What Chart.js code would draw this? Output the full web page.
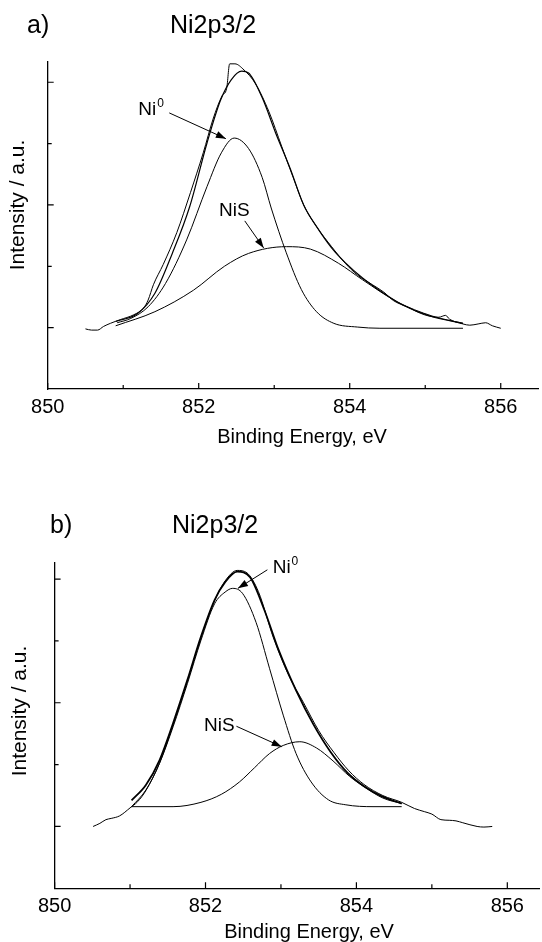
<!DOCTYPE html>
<html>
<head>
<meta charset="utf-8">
<title>Ni2p3/2 XPS fits</title>
<script src="https://cdn.jsdelivr.net/npm/chart.js@4.4.1/dist/chart.umd.min.js"></script>
<style>
  body { margin: 0; background: #fff; }
  #wrap { position: relative; width: 542px; height: 942px; }
  canvas { position: absolute; left: 0; }
  #chart-a { top: 0; }
  #chart-b { top: 470px; }
</style>
</head>
<body>
<div id="wrap">
  <canvas id="chart-a" width="542" height="470"></canvas>
  <canvas id="chart-b" width="542" height="472"></canvas>
</div>
<script>
// Panel a) - measured spectrum
const expAx = [850.50, 850.58, 850.66, 850.74, 850.83, 850.96, 851.14, 851.27, 851.33, 851.40, 851.53, 851.71, 851.89, 852.06, 852.19, 852.31, 852.37, 852.41, 852.48, 852.60, 852.75, 852.93, 853.10, 853.25, 853.39, 853.57, 853.76, 853.94, 854.10, 854.30, 854.45, 854.58, 854.76, 854.99, 855.18, 855.27, 855.32, 855.50, 855.59, 855.70, 855.80, 855.89, 856.00];
const expAy = [0.98, 0.96, 0.96, 1.02, 1.07, 1.13, 1.21, 1.32, 1.45, 1.70, 2.03, 2.55, 3.20, 3.85, 4.40, 4.78, 4.90, 5.30, 5.30, 5.20, 4.98, 4.52, 3.95, 3.45, 3.00, 2.63, 2.32, 2.05, 1.86, 1.70, 1.58, 1.44, 1.34, 1.21, 1.17, 1.20, 1.14, 1.06, 1.04, 1.06, 1.08, 1.03, 0.99];
// Panel a) - fit envelope
const envAx = [850.90, 851.19, 851.42, 851.65, 851.88, 852.11, 852.29, 852.43, 852.57, 852.66, 852.84, 853.02, 853.21, 853.39, 853.57, 853.76, 853.94, 854.17, 854.45, 854.70, 855.06, 855.50];
const envAy = [1.10, 1.23, 1.56, 2.21, 2.97, 4.01, 4.71, 5.04, 5.18, 5.15, 4.75, 4.17, 3.60, 3.00, 2.63, 2.30, 2.06, 1.81, 1.56, 1.37, 1.19, 1.07];
// Panel a) - Ni0 component
const ni0Ax = [850.92, 851.10, 851.33, 851.56, 851.84, 852.11, 852.30, 852.47, 852.66, 852.84, 852.96, 853.16, 853.36, 853.56, 853.79, 854.10, 854.40, 855.50];
const ni0Ay = [1.08, 1.15, 1.34, 1.72, 2.43, 3.30, 3.85, 4.09, 3.92, 3.45, 2.95, 2.22, 1.62, 1.26, 1.07, 1.01, 0.99, 0.99];
// Panel a) - NiS component
const nisAx = [850.90, 851.42, 851.93, 852.34, 852.66, 853.16, 853.48, 853.85, 854.17, 854.63, 855.09, 855.50];
const nisAy = [1.03, 1.26, 1.61, 2.00, 2.21, 2.32, 2.28, 2.05, 1.78, 1.42, 1.19, 1.07];

// Panel b) - measured spectrum
const expBx = [850.51, 850.60, 850.68, 850.75, 850.86, 851.00, 851.10, 851.21, 851.39, 851.57, 851.76, 851.94, 852.12, 852.26, 852.42, 852.55, 852.70, 852.90, 853.10, 853.30, 853.50, 853.70, 853.90, 854.10, 854.35, 854.60, 854.77, 854.90, 855.00, 855.12, 855.23, 855.32, 855.41, 855.60, 855.69, 855.80];
const expBy = [1.00, 1.05, 1.11, 1.13, 1.17, 1.30, 1.40, 1.58, 2.02, 2.64, 3.35, 4.05, 4.65, 4.97, 5.14, 5.10, 4.80, 4.05, 3.45, 3.00, 2.55, 2.20, 1.90, 1.68, 1.50, 1.39, 1.29, 1.24, 1.20, 1.11, 1.10, 1.09, 1.06, 1.00, 0.99, 1.00];
// Panel b) - fit envelope
const envBx = [851.02, 851.21, 851.39, 851.57, 851.76, 851.94, 852.12, 852.26, 852.42, 852.59, 852.78, 852.97, 853.20, 853.43, 853.66, 853.88, 854.10, 854.33, 854.60];
const envBy = [1.42, 1.67, 2.07, 2.67, 3.37, 4.07, 4.66, 4.95, 5.12, 5.03, 4.50, 3.85, 3.20, 2.65, 2.20, 1.87, 1.65, 1.49, 1.37];
// Panel b) - Ni0 component
const ni0Bx = [851.02, 851.21, 851.39, 851.57, 851.76, 851.94, 852.12, 852.26, 852.36, 852.49, 852.67, 852.85, 853.03, 853.20, 853.40, 853.63, 853.86, 854.22, 854.60];
const ni0By = [1.32, 1.59, 2.02, 2.61, 3.31, 4.01, 4.60, 4.79, 4.85, 4.77, 4.30, 3.55, 2.80, 2.18, 1.72, 1.43, 1.35, 1.32, 1.32];
// Panel b) - NiS component
const nisBx = [851.02, 851.57, 851.94, 852.21, 852.45, 852.65, 852.85, 853.03, 853.25, 853.47, 853.69, 853.91, 854.14, 854.35, 854.60];
const nisBy = [1.32, 1.32, 1.39, 1.52, 1.72, 1.95, 2.18, 2.31, 2.37, 2.27, 2.06, 1.81, 1.61, 1.46, 1.37];

// Axis ticks
const xTickLabels = [850, 852, 854, 856];
const xMinorTicks = [851, 853, 855];
const yMajorTicks = [1, 3, 5];
const yMinorTicks = [2, 4];

const FONT = 'Arial, "Liberation Sans", Helvetica, sans-serif';

function toPoints(xs, ys) {
  return xs.map((x, i) => ({ x: x, y: ys[i] }));
}

function curve(xs, ys, width, smooth) {
  return {
    data: toPoints(xs, ys),
    borderColor: '#000',
    borderWidth: width,
    pointRadius: 0,
    fill: false,
    cubicInterpolationMode: smooth ? 'monotone' : 'default',
    tension: 0
  };
}

// Draws inward ticks, the panel titles, axis titles and the arrow labels
function decorPlugin(p) {
  return {
    id: 'decor',
    afterDraw(chart) {
      const { ctx, chartArea: area, scales: { x, y } } = chart;
      ctx.save();
      ctx.strokeStyle = '#000';
      ctx.fillStyle = '#000';

      // inward tick marks
      ctx.lineWidth = 1.2;
      ctx.beginPath();
      const xTick = (v, len) => {
        const px = x.getPixelForValue(v);
        ctx.moveTo(px, area.bottom);
        ctx.lineTo(px, area.bottom - len);
      };
      const yTick = (v, len) => {
        const py = y.getPixelForValue(v);
        ctx.moveTo(area.left, py);
        ctx.lineTo(area.left + len, py);
      };
      xTickLabels.forEach(v => xTick(v, 6));
      xMinorTicks.forEach(v => xTick(v, 4));
      yMajorTicks.forEach(v => yTick(v, 6));
      yMinorTicks.forEach(v => yTick(v, 4));
      ctx.stroke();

      // panel letter and title
      ctx.font = '25px ' + FONT;
      ctx.textAlign = 'left';
      ctx.textBaseline = 'alphabetic';
      ctx.fillText(p.letter, p.letterX, p.titleY);
      ctx.fillText('Ni2p3/2', p.titleX, p.titleY);

      // x axis title
      ctx.font = '20px ' + FONT;
      ctx.textAlign = 'center';
      ctx.fillText('Binding Energy, eV', p.xTitleX, p.xTitleY);

      // y axis title
      ctx.save();
      ctx.translate(p.yTitleX, p.yTitleY);
      ctx.rotate(-Math.PI / 2);
      ctx.font = '21px ' + FONT;
      ctx.textAlign = 'center';
      ctx.textBaseline = 'middle';
      ctx.fillText('Intensity / a.u.', 0, 0);
      ctx.restore();

      // component labels with arrows
      p.notes.forEach(n => {
        const tx = x.getPixelForValue(n.x);
        const ty = y.getPixelForValue(n.y);
        ctx.font = '19px ' + FONT;
        ctx.textAlign = 'left';
        ctx.textBaseline = 'alphabetic';
        ctx.fillText(n.text, tx, ty);
        if (n.sup) {
          const w = ctx.measureText(n.text).width;
          ctx.font = '12px ' + FONT;
          ctx.fillText(n.sup, tx + w + 1, ty - 8);
        }
        const x1 = x.getPixelForValue(n.from[0]), y1 = y.getPixelForValue(n.from[1]);
        const x2 = x.getPixelForValue(n.to[0]), y2 = y.getPixelForValue(n.to[1]);
        ctx.lineWidth = 1;
        ctx.beginPath();
        ctx.moveTo(x1, y1);
        ctx.lineTo(x2, y2);
        ctx.stroke();
        const a = Math.atan2(y2 - y1, x2 - x1);
        const L = 10, W = 3.5;
        ctx.beginPath();
        ctx.moveTo(x2, y2);
        ctx.lineTo(x2 - L * Math.cos(a) + W * Math.sin(a), y2 - L * Math.sin(a) - W * Math.cos(a));
        ctx.lineTo(x2 - L * Math.cos(a) - W * Math.sin(a), y2 - L * Math.sin(a) + W * Math.cos(a));
        ctx.closePath();
        ctx.fill();
      });
      ctx.restore();
    }
  };
}

function makeChart(id, cfg) {
  const canvas = document.getElementById(id);
  return new Chart(canvas, {
    type: 'line',
    data: { datasets: cfg.datasets },
    options: {
      responsive: false,
      animation: false,
      devicePixelRatio: 1,
      layout: { padding: cfg.padding },
      plugins: { legend: { display: false }, tooltip: { enabled: false } },
      scales: {
        x: {
          type: 'linear',
          min: 850,
          max: cfg.xMax,
          grid: { display: false, drawTicks: false },
          border: { display: true, color: '#000', width: 1.3 },
          afterBuildTicks: scale => { scale.ticks = xTickLabels.map(v => ({ value: v })); },
          ticks: {
            color: '#000',
            padding: 6,
            maxRotation: 0,
            font: { family: FONT, size: 20 },
            callback: v => String(v)
          },
          afterFit: scale => { scale.height = cfg.xHeight; }
        },
        y: {
          min: 0,
          max: cfg.yMax,
          grid: { display: false, drawTicks: false },
          border: { display: true, color: '#000', width: 1.3 },
          ticks: { display: false },
          afterFit: scale => { scale.width = 0; }
        }
      }
    },
    plugins: [decorPlugin(cfg.decor)]
  });
}

makeChart('chart-a', {
  datasets: [
    curve(expAx, expAy, 1, true),
    curve(envAx, envAy, 1.2, true),
    curve(ni0Ax, ni0Ay, 1, true),
    curve(nisAx, nisAy, 1, true)
  ],
  padding: { left: 47.7, right: 3.5, top: 62, bottom: 0 },
  xMax: 856.5,
  yMax: 5.33,
  xHeight: 81,
  decor: {
    letter: 'a)', letterX: 27, titleX: 170, titleY: 33,
    xTitleX: 302, xTitleY: 443,
    yTitleX: 18, yTitleY: 205,
    notes: [
      { text: 'Ni', sup: '0', x: 851.20, y: 4.47, from: [851.61, 4.50], to: [852.36, 4.08] },
      { text: 'NiS', x: 852.27, y: 2.82, from: [852.61, 2.74], to: [852.86, 2.30] }
    ]
  }
});

makeChart('chart-b', {
  datasets: [
    curve(expBx, expBy, 1, true),
    curve(envBx, envBy, 1.8, true),
    curve(ni0Bx, ni0By, 1, true),
    curve(nisBx, nisBy, 1, true)
  ],
  padding: { left: 54.6, right: 3, top: 93, bottom: 0 },
  xMax: 856.42,
  yMax: 5.26,
  xHeight: 53.7,
  decor: {
    letter: 'b)', letterX: 50, titleX: 172, titleY: 63,
    xTitleX: 309, xTitleY: 468,
    yTitleX: 20, yTitleY: 241,
    notes: [
      { text: 'Ni', sup: '0', x: 852.89, y: 5.10, from: [852.82, 5.15], to: [852.43, 4.85] },
      { text: 'NiS', x: 851.98, y: 2.54, from: [852.41, 2.62], to: [853.01, 2.29] }
    ]
  }
});
</script>
</body>
</html>
